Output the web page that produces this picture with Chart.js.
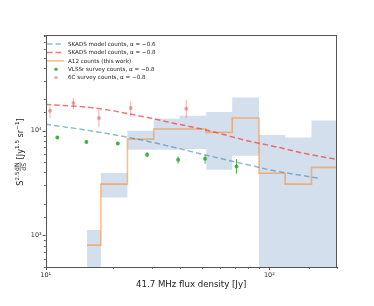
<!DOCTYPE html>
<html><head><meta charset="utf-8">
<script src="https://cdn.jsdelivr.net/npm/chart.js@4.4.1/dist/chart.umd.min.js"></script>
<style>html,body{margin:0;padding:0;background:#fff;}canvas{display:block;}</style>
</head><body>
<canvas id="c" width="374" height="306"></canvas>
<script>
// ---- data ----
const binEdges = [15.3, 17.65, 23.2, 30.4, 39.7, 52.2, 68.2, 89.9, 117.6, 154.3, 200];
const a12Counts = [808, 3090, 8320, 10370, 10370, 9640, 13210, 3930, 3090, 4470];
const a12Upper  = [1130, 3950, 10000, 13020, 13900, 15070, 20800, 9100, 8600, 12550];
const a12Lower  = [100, 2310, 6580, 6580, 6700, 4240, 5770, 100, 100, 100];

const skads06X = [10, 16.5, 26.5, 37, 53, 80, 105, 165];
const skads06Y = [11540, 9850, 8200, 6980, 5800, 4730, 4150, 3530];
const skads08X = [10, 16.5, 27, 37, 53, 78, 105, 148, 200];
const skads08Y = [17800, 16480, 13700, 11850, 10070, 8110, 7080, 5990, 5320];

const vlssX  = [11.27, 15.2, 21.0, 28.4, 39.1, 51.6, 71.3];
const vlssY  = [8630, 7800, 7570, 5900, 5290, 5400, 4560];
const vlssLo = [8350, 7550, 7330, 5560, 4840, 4840, 3880];
const vlssHi = [8920, 8060, 7820, 6260, 5690, 5900, 5370];

const sixcX  = [10.45, 13.3, 17.3, 24.0, 42.5];
const sixcY  = [15530, 18410, 13220, 16490, 16230];
const sixcLo = [13220, 16110, 10850, 13700, 13220];
const sixcHi = [17070, 20500, 15860, 19060, 19770];

const xTickLabels = {10: '10\u00b9', 100: '10\u00b2'};
const yTickLabels = {1000: '10\u00b3', 10000: '10\u2074'};

// ---- build datasets ----
const pts = (xs, ys) => xs.map((x, i) => ({x, y: ys[i]}));
const stepPts = (edges, vals) => {
  const out = vals.map((v, i) => ({x: edges[i], y: v}));
  out.push({x: edges[edges.length - 1], y: vals[vals.length - 1]});
  return out;
};
const FONT = 'DejaVu Sans';
const C_BLUE = 'rgba(31,119,180,0.5)';
const C_RED = 'rgba(240,60,60,0.7)';
const C_ORANGE = 'rgba(255,127,14,0.5)';
const C_GREEN = 'rgba(44,160,44,0.8)';
const C_PINK = 'rgba(214,39,40,0.38)';
const C_BAND = 'rgba(176,196,222,0.55)';

const datasets = [
  {label: 'VLSSr survey counts, \u03b1 = \u22120.8', data: pts(vlssX, vlssY), showLine: false,
   pointRadius: 2, pointBackgroundColor: C_GREEN, pointBorderWidth: 0, errLo: vlssLo, errHi: vlssHi, kind: 'dot', color: C_GREEN, order: 1},
  {label: '6C survey counts, \u03b1 = \u22120.8', data: pts(sixcX, sixcY), showLine: false,
   pointRadius: 2, pointBackgroundColor: C_PINK, pointBorderWidth: 0, errLo: sixcLo, errHi: sixcHi, kind: 'dot', color: C_PINK, order: 2},
  {label: 'SKADS model counts, \u03b1 = \u22120.6', data: pts(skads06X, skads06Y), borderColor: C_BLUE, borderWidth: 1.5,
   borderDash: [5.5, 3], pointRadius: 0, cubicInterpolationMode: 'monotone', fill: false, kind: 'dash', color: C_BLUE, order: 3},
  {label: 'SKADS model counts, \u03b1 = \u22120.8', data: pts(skads08X, skads08Y), borderColor: C_RED, borderWidth: 1.5,
   borderDash: [5.5, 3], pointRadius: 0, cubicInterpolationMode: 'monotone', fill: false, kind: 'dash', color: C_RED, order: 4},
  {label: 'A12 counts (this work)', data: stepPts(binEdges, a12Counts), borderColor: C_ORANGE, borderWidth: 1.6,
   stepped: 'before', pointRadius: 0, fill: false, kind: 'line', color: C_ORANGE, order: 5},
  {label: 'band upper', data: stepPts(binEdges, a12Upper), borderWidth: 0, borderColor: 'rgba(0,0,0,0)',
   stepped: 'before', pointRadius: 0, fill: '+1', backgroundColor: C_BAND, order: 6},
  {label: 'band lower', data: stepPts(binEdges, a12Lower), borderWidth: 0, borderColor: 'rgba(0,0,0,0)',
   stepped: 'before', pointRadius: 0, fill: false, order: 7}
];
const legendOrder = [2, 3, 4, 0, 1];

const isDecade = v => Math.abs(Math.log10(v) - Math.round(Math.log10(v))) < 1e-6;

const decor = {
  id: 'decor',
  afterDatasetsDraw(chart) {
    const ctx = chart.ctx, a = chart.chartArea;
    const xs = chart.scales.x, ys = chart.scales.y;
    ctx.save();
    ctx.beginPath(); ctx.rect(a.left, a.top, a.right - a.left, a.bottom - a.top); ctx.clip();
    chart.data.datasets.forEach(ds => {
      if (!ds.errLo) return;
      ctx.strokeStyle = ds.color; ctx.lineWidth = 1;
      ds.data.forEach((p, i) => {
        const px = xs.getPixelForValue(p.x);
        ctx.beginPath();
        ctx.moveTo(px, ys.getPixelForValue(ds.errLo[i]));
        ctx.lineTo(px, ys.getPixelForValue(ds.errHi[i]));
        ctx.stroke();
      });
    });
    ctx.restore();
  },
  afterDraw(chart) {
    const ctx = chart.ctx, a = chart.chartArea;
    const xs = chart.scales.x, ys = chart.scales.y;
    ctx.save();
    ctx.strokeStyle = '#555'; ctx.lineWidth = 1;
    ctx.strokeRect(Math.round(a.left) + 0.5, Math.round(a.top) + 0.5, Math.round(a.right - a.left) - 1, Math.round(a.bottom - a.top));
    xs.ticks.forEach(t => {
      const px = Math.round(xs.getPixelForValue(t.value)) + 0.5;
      const len = isDecade(t.value) ? 3 : 1.8;
      ctx.beginPath(); ctx.moveTo(px, a.bottom); ctx.lineTo(px, a.bottom + len); ctx.stroke();
    });
    ys.ticks.forEach(t => {
      const py = Math.round(ys.getPixelForValue(t.value)) + 0.5;
      const len = isDecade(t.value) ? 3 : 1.8;
      ctx.beginPath(); ctx.moveTo(a.left, py); ctx.lineTo(a.left - len, py); ctx.stroke();
    });
    // legend
    ctx.font = '5.6px "' + FONT + '"';
    ctx.textBaseline = 'middle';
    ctx.textAlign = 'left';
    legendOrder.forEach((di, k) => {
      const ds = chart.data.datasets[di];
      const y = 44 + k * 8.4;
      if (ds.kind === 'dash') {
        ctx.strokeStyle = ds.color; ctx.lineWidth = 1.5; ctx.setLineDash([5.5, 3]);
        ctx.beginPath(); ctx.moveTo(47, y); ctx.lineTo(64, y); ctx.stroke(); ctx.setLineDash([]);
      } else if (ds.kind === 'line') {
        ctx.strokeStyle = ds.color; ctx.lineWidth = 1.6;
        ctx.beginPath(); ctx.moveTo(47, y); ctx.lineTo(64, y); ctx.stroke();
      } else {
        ctx.fillStyle = ds.color;
        ctx.beginPath(); ctx.arc(56, y, 1.8, 0, Math.PI * 2); ctx.fill();
      }
      ctx.fillStyle = '#222';
      ctx.fillText(ds.label, 68, y + 0.3);
    });
    // y-axis label (rotated, with fraction)
    ctx.translate(20, 152); ctx.rotate(-Math.PI / 2);
    const big = 8.2, sup = 5.6, fr = 6.2;
    const segs = [
      {t: 'S', s: big, dy: 0}, {t: '2.5', s: sup, dy: -3.6},
      {frac: ['dN', 'dS'], s: fr},
      {t: ' [Jy', s: big, dy: 0}, {t: '1.5', s: sup, dy: -3.6},
      {t: ' sr', s: big, dy: 0}, {t: '\u22121', s: sup, dy: -3.6}, {t: ']', s: big, dy: 0}
    ];
    let total = 0;
    segs.forEach(sg => {
      ctx.font = sg.s + 'px "' + FONT + '"';
      if (sg.frac) sg.w = Math.max(ctx.measureText(sg.frac[0]).width, ctx.measureText(sg.frac[1]).width) + 1;
      else sg.w = ctx.measureText(sg.t).width;
      total += sg.w;
    });
    let x = -total / 2;
    const base = 3;
    ctx.fillStyle = '#222'; ctx.textBaseline = 'alphabetic'; ctx.textAlign = 'left';
    segs.forEach(sg => {
      ctx.font = sg.s + 'px "' + FONT + '"';
      if (sg.frac) {
        ctx.textAlign = 'center';
        ctx.fillText(sg.frac[0], x + sg.w / 2, -1.2);
        ctx.fillText(sg.frac[1], x + sg.w / 2, 5.6);
        ctx.strokeStyle = '#222'; ctx.lineWidth = 0.6;
        ctx.beginPath(); ctx.moveTo(x + 0.3, 0.2); ctx.lineTo(x + sg.w - 0.3, 0.2); ctx.stroke();
        ctx.textAlign = 'left';
      } else {
        ctx.fillText(sg.t, x, base + sg.dy);
      }
      x += sg.w;
    });
    ctx.restore();
  }
};

new Chart(document.getElementById('c'), {
  type: 'line',
  data: {datasets},
  plugins: [decor],
  options: {
    responsive: false, devicePixelRatio: 1, animation: false,
    layout: {padding: {left: 0, right: 37.3, top: 35, bottom: 16}},
    plugins: {legend: {display: false}, tooltip: {enabled: false}},
    scales: {
      x: {type: 'logarithmic', min: 10, max: 200,
          grid: {display: false, drawTicks: false, tickLength: 0}, border: {display: false},
          afterFit: s => { s.height = 23; },
          ticks: {autoSkip: false, maxRotation: 0, padding: 4, color: '#333', font: {family: FONT, size: 6.5},
                  callback: v => xTickLabels[Math.round(v)] && isDecade(v) ? xTickLabels[Math.round(v)] : ''},
          title: {display: true, text: '41.7 MHz flux density [Jy]', color: '#222', font: {family: FONT, size: 8.6}, padding: 0}},
      y: {type: 'logarithmic', min: 500, max: 82000,
          grid: {display: false, drawTicks: false, tickLength: 0}, border: {display: false},
          afterFit: s => { s.width = 45.7; },
          ticks: {autoSkip: false, padding: 4, color: '#333', font: {family: FONT, size: 6.5},
                  callback: v => yTickLabels[Math.round(v)] && isDecade(v) ? yTickLabels[Math.round(v)] : ''}}
    }
  }
});
</script>
</body></html>
